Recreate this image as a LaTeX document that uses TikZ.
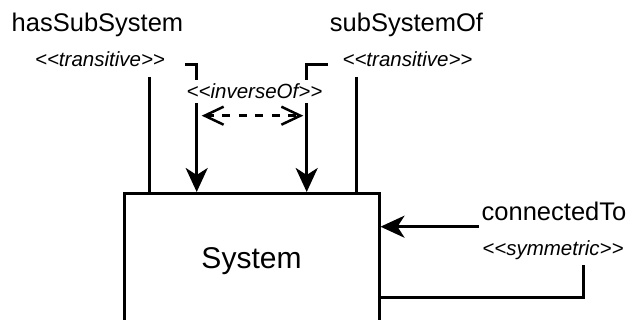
\documentclass[tikz,border=0pt]{standalone}
\usepackage{fontspec}
\setmainfont{Liberation Sans}
\usetikzlibrary{arrows.meta}
\newcommand{\stl}{<\kern0pt<}
\newcommand{\stg}{>\kern0pt>}
\begin{document}
\begin{tikzpicture}[x=1pt,y=-1pt,line width=3pt,every node/.style={inner sep=0pt},
  relname/.style={font=\fontsize{25.5}{30}\selectfont,anchor=base},
  stereo/.style={font=\fontsize{20.5}{24}\selectfont\itshape,anchor=base},
  into/.style={-{Stealth[length=24pt,width=22pt,inset=7pt]}},
  openend/.tip={Straight Barb[length=19pt,width=18pt]}]
\useasboundingbox (0,0) rectangle (628,320);
\clip (0,0) rectangle (628,320);
\node[draw,minimum width=255pt,minimum height=136pt,font=\fontsize{30}{36}\selectfont] (sys) at (251.5,261.5) {System};
\node[relname] (hss) at (97.5,32) {hasSubSystem};
\node[relname] (sso) at (406.5,32) {subSystemOf};
\node[stereo] (trl) at (100,67) {\stl transitive\stg};
\node[stereo] (trr) at (407.5,67) {\stl transitive\stg};
\node[relname] (con) at (554,220) {connectedTo};
\node[stereo] (sym) at (553,255) {\stl symmetric\stg};
\coordinate (hsa) at (149.3,77);
\coordinate (hsb) at (185,65);
\coordinate (hsx) at (196.7,0);
\coordinate (ssa) at (356,77);
\coordinate (ssb) at (328,65);
\coordinate (ssx) at (306.7,0);
\draw (hsa) -- (hsa |- sys.north);
\draw[into] (hsb) -| (hsx |- sys.north);
\draw[into] (ssb) -| (ssx |- sys.north);
\draw (ssa) -- (ssa |- sys.north);
\node[stereo,fill=white,inner xsep=1pt,inner ysep=4pt] (inv) at (254.5,99) {\stl inverseOf\stg};
\coordinate (da) at (201.7,115.7);
\coordinate (db) at (303.3,115.7);
\draw[line width=2.5pt,dash pattern=on 8pt off 8.5pt,openend-openend] (da) -- (db);
\coordinate (ca) at (479,226.7);
\draw[into] (ca) -- (ca -| sys.east);
\coordinate (sa) at (583.3,265);
\coordinate (sy) at (0,297.7);
\draw (sa) |- (sy -| sys.east);
\end{tikzpicture}
\end{document}
